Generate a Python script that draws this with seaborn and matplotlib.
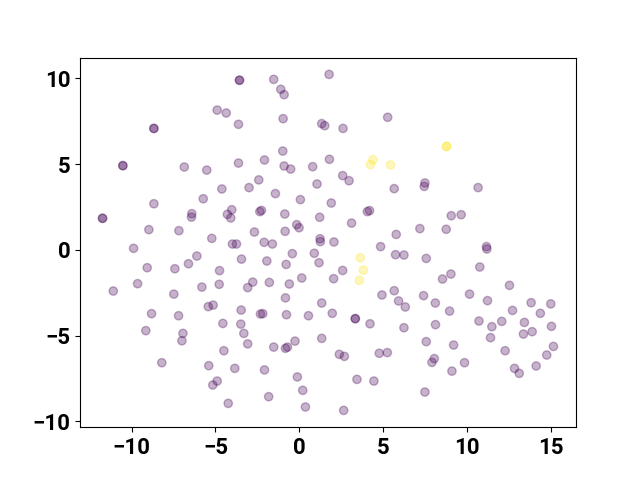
import pandas as pd
import matplotlib
matplotlib.use("Agg")
import matplotlib.pyplot as plt
from matplotlib.ticker import MultipleLocator
import seaborn as sns

# embedding coordinates, class 0 (purple)
x0 = [-3.57, -3.57, -4.90, -4.36, -3.63, -8.67, -8.67, -10.52, -10.52, -6.86,
      -5.52, -3.63, -1.53, 1.77, -1.11, -0.91, -0.97, 1.33, 1.51, 2.60,
      5.26, -0.99, -2.08, -0.91, -0.52, 0.79, 1.79, 2.58, 2.96, -2.42,
      1.05, 7.48, 7.44, 10.65, -11.73, -11.73, -8.67, -5.73, -4.62, -3.00,
      -6.41, -6.43, -4.29, -4.03, -4.09, -8.97, -7.18, -5.22, -3.99, -3.75,
      -9.88, -6.11, -3.45, -6.61, -9.07, -7.42, -4.76, -11.09, -9.64, -7.48,
      -5.81, -4.78, -3.08, -2.78, -5.14, -5.43, -1.43, 5.65, 0.06, 1.90,
      -2.36, -2.26, -0.87, 1.21, 4.05, 4.18, 3.11, -0.16, -0.02, -2.68,
      -0.85, 5.77, -2.10, -1.61, 1.23, 1.25, 2.06, 4.84, -0.42, 0.89,
      5.73, 6.23, -1.94, -0.79, 1.17, 2.58, 0.14, 2.04, -1.79, -0.60,
      5.65, 4.92, 5.91, -0.83, 1.33, 9.05, 9.64, 7.18, 8.75, 11.15,
      11.17, 7.56, 10.75, 8.53, 9.03, 12.52, 7.40, 10.14, 11.21, 8.10,
      13.81, 14.98, -8.81, -7.20, -3.47, -9.15, -6.94, -7.00, -4.56, -3.49,
      -3.31, -3.08, -4.50, -8.20, -5.40, -3.85, -4.90, -5.16, -4.24, 6.31,
      -2.32, -2.18, -0.77, 0.54, 1.96, 3.33, 3.33, 4.21, 6.23, -1.53,
      -0.83, -0.71, -0.26, 1.33, 2.38, 2.68, 4.76, 5.24, -2.08, -0.12,
      3.43, 4.44, 0.20, -1.83, 0.36, 2.64, 8.95, 12.70, 14.36, 8.11,
      10.70, 11.47, 12.06, 13.41, 13.35, 13.87, 15.02, 11.39, 7.56, 9.19,
      12.26, 15.14, 14.74, 8.04, 7.90, 9.84, 9.09, 12.82, 13.10, 14.11,
      7.48]
y0 = [9.89, 9.89, 8.15, 7.98, 7.32, 7.08, 7.08, 4.91, 4.91, 4.83,
      4.65, 5.06, 9.94, 10.23, 9.36, 9.05, 7.65, 7.36, 7.24, 7.08,
      7.73, 5.76, 5.24, 4.89, 4.71, 4.85, 5.28, 4.33, 4.03, 4.08,
      3.84, 3.90, 3.70, 3.63, 1.84, 1.84, 2.69, 2.98, 3.55, 3.63,
      2.11, 1.91, 2.07, 2.34, 1.86, 1.18, 1.12, 0.67, 0.34, 0.34,
      0.09, -0.36, -0.54, -0.81, -1.04, -1.10, -1.21, -2.40, -1.97, -2.58,
      -2.17, -2.01, -2.20, -1.88, -3.22, -3.31, 3.28, 3.57, 2.93, 2.73,
      2.23, 2.30, 2.09, 1.90, 2.23, 2.29, 1.56, 1.47, 1.29, 1.04,
      1.08, 0.90, 0.44, 0.34, 0.65, 0.48, 0.46, 0.19, -0.22, -0.20,
      -0.28, -0.30, -0.65, -0.85, -0.75, -1.20, -1.64, -1.68, -1.90, -1.99,
      -2.38, -2.63, -2.98, -2.80, -3.10, 1.99, 2.05, 1.24, 1.20, 0.19,
      0.05, -0.50, -1.00, -1.70, -1.41, -2.07, -2.67, -2.58, -2.96, -3.10,
      -3.08, -3.15, -3.72, -3.84, -3.51, -4.71, -4.87, -5.30, -4.29, -4.33,
      -4.87, -5.48, -5.88, -6.58, -6.75, -6.91, -7.65, -7.88, -8.95, -3.33,
      -3.74, -3.72, -3.78, -3.84, -3.70, -4.01, -4.01, -4.31, -4.54, -5.67,
      -5.74, -5.67, -5.32, -5.16, -6.09, -6.21, -6.03, -5.99, -7.00, -7.41,
      -7.55, -7.65, -8.19, -8.56, -9.16, -9.36, -3.57, -3.53, -3.70, -4.36,
      -4.15, -4.48, -4.17, -4.23, -4.91, -4.77, -4.46, -5.12, -5.35, -5.55,
      -5.88, -5.63, -6.13, -6.34, -6.56, -6.58, -7.07, -6.91, -7.20, -6.77,
      -8.29]

# class 1 (yellow)
x1 = [4.38, 4.23, 5.43, 8.77, 8.77, 3.63, 3.81, 3.57]
y1 = [5.26, 4.97, 4.95, 6.03, 6.03, -0.46, -1.18, -1.78]

df = pd.DataFrame({
    "x": x0 + x1,
    "y": y0 + y1,
    "label": [0] * len(x0) + [1] * len(x1),
})

plt.rcParams["font.family"] = ["Roboto", "DejaVu Sans"]
plt.rcParams["font.weight"] = "bold"

fig, ax = plt.subplots(figsize=(6.4, 4.8), dpi=100)
sns.scatterplot(data=df, x="x", y="y", hue="label",
                palette=["#440154", "#fde725"], alpha=0.3, s=36,
                edgecolor="face", linewidth=1.0, legend=False, ax=ax)
ax.set_xlabel("")
ax.set_ylabel("")
ax.xaxis.set_major_locator(MultipleLocator(5))
ax.yaxis.set_major_locator(MultipleLocator(5))
ax.tick_params(labelsize=16)
for lbl in ax.get_xticklabels() + ax.get_yticklabels():
    lbl.set_fontweight("bold")

fig.savefig("out.png")
plt.close(fig)
